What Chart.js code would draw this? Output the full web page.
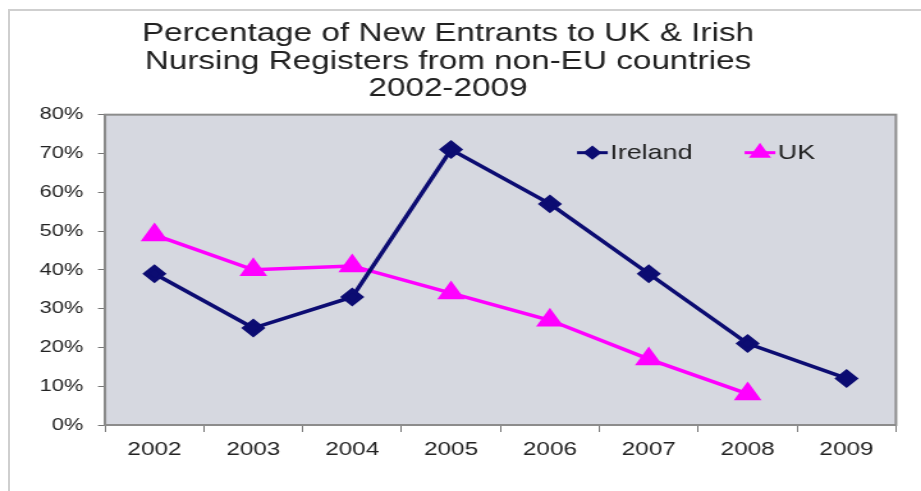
<!DOCTYPE html>
<html>
<head>
<meta charset="utf-8">
<script src="https://cdn.jsdelivr.net/npm/chart.js@4.4.1/dist/chart.umd.min.js"></script>
<style>
    html, body { margin: 0; padding: 0; background: #ffffff; overflow: hidden; }
    #wrap { position: relative; width: 921px; height: 491px; overflow: hidden; }
    #frame {
        position: absolute; left: 8px; top: 9px; right: -2px; bottom: -2px;
        border-top: 2px solid #cfcfcf; border-left: 2px solid #cfcfcf;
    }
    /* the source picture is stretched sideways, so stretch the canvas the same way */
    #chart { position: absolute; left: 0; top: 0; transform: scaleX(1.2792); transform-origin: 0 0; }
</style>
</head>
<body>
<div id="wrap">
    <div id="frame"></div>
    <canvas id="chart" width="720" height="491"></canvas>
</div>
<script>
// Chart data
const years = ['2002', '2003', '2004', '2005', '2006', '2007', '2008', '2009'];
const irelandPct = [39, 25, 33, 71, 57, 39, 21, 12];
const ukPct = [49, 40, 41, 34, 27, 17, 8, null];
const titleLines = [
    'Percentage of New Entrants to UK & Irish',
    'Nursing Registers from non-EU countries',
    '2002-2009'
];

const colors = {
    ireland: '#0c0c72',
    uk: '#ff00ff',
    plotBg: '#d6d8e0',
    text: '#222222'
};

const fontFamily = '"Liberation Sans", Arial, sans-serif';

// plot area background + border
const plotArea = {
    id: 'plotArea',
    beforeDatasetsDraw(chart) {
        const { ctx, chartArea: a } = chart;
        ctx.save();
        ctx.fillStyle = colors.plotBg;
        ctx.fillRect(a.left, a.top, a.right - a.left, a.bottom - a.top);
        ctx.strokeStyle = '#8c8c8c';
        ctx.lineWidth = 2;
        ctx.strokeRect(a.left, a.top, a.right - a.left, a.bottom - a.top);
        ctx.restore();
    }
};

// legend drawn inside the plot, Excel-style
const innerLegend = {
    id: 'innerLegend',
    afterDatasetsDraw(chart) {
        const { ctx, chartArea: a } = chart;
        const y = a.top + 38;
        const items = [
            { x: a.left + 369, ds: 0, label: 'Ireland' },
            { x: a.left + 500, ds: 1, label: 'UK' }
        ];
        ctx.save();
        ctx.font = '21px ' + fontFamily;
        ctx.textBaseline = 'middle';
        items.forEach(it => {
            const ds = chart.data.datasets[it.ds];
            ctx.strokeStyle = ds.borderColor;
            ctx.lineWidth = 3;
            ctx.beginPath();
            ctx.moveTo(it.x, y);
            ctx.lineTo(it.x + 24, y);
            ctx.stroke();
            ctx.fillStyle = ds.pointBackgroundColor;
            ctx.strokeStyle = ds.pointBorderColor;
            Chart.helpers.drawPoint(ctx, {
                pointStyle: ds.pointStyle,
                radius: ds.pointRadius - 2,
                rotation: 0,
                borderWidth: 1
            }, it.x + 12, y);
            ctx.fillStyle = colors.text;
            ctx.fillText(it.label, it.x + 26, y + 1);
        });
        ctx.restore();
    }
};

new Chart(document.getElementById('chart').getContext('2d'), {
    type: 'line',
    data: {
        labels: years,
        datasets: [
            {
                label: 'Ireland',
                data: irelandPct,
                borderColor: colors.ireland,
                backgroundColor: colors.ireland,
                pointBackgroundColor: colors.ireland,
                pointBorderColor: colors.ireland,
                pointStyle: 'rectRot',
                pointRadius: 7,
                borderWidth: 3.5,
                tension: 0
            },
            {
                label: 'UK',
                data: ukPct,
                borderColor: colors.uk,
                backgroundColor: colors.uk,
                pointBackgroundColor: colors.uk,
                pointBorderColor: colors.uk,
                pointStyle: 'triangle',
                pointRadius: 9,
                borderWidth: 3.5,
                tension: 0
            }
        ]
    },
    options: {
        responsive: false,
        animation: false,
        layout: { padding: { left: 0, right: 19.6, top: 4, bottom: 0 } },
        plugins: {
            legend: { display: false },
            tooltip: { enabled: false },
            title: {
                display: true,
                text: titleLines,
                color: colors.text,
                font: { family: fontFamily, size: 26, weight: 'normal', lineHeight: 1.06 },
                padding: { top: 16, bottom: 12 }
            }
        },
        scales: {
            x: {
                offset: true,
                grid: {
                    offset: true,
                    drawOnChartArea: false,
                    drawTicks: true,
                    tickLength: 7,
                    color: '#777777'
                },
                border: { display: true, color: '#777777', width: 2 },
                ticks: {
                    color: colors.text,
                    font: { family: fontFamily, size: 19 },
                    padding: 6,
                    maxRotation: 0
                },
                afterFit(scale) { scale.height = 66; }
            },
            y: {
                min: 0,
                max: 80,
                grid: {
                    drawOnChartArea: false,
                    drawTicks: true,
                    tickLength: 5.5,
                    color: '#777777'
                },
                border: { display: true, color: '#777777', width: 2 },
                ticks: {
                    stepSize: 10,
                    color: colors.text,
                    font: { family: fontFamily, size: 17 },
                    padding: 11.5,
                    callback: v => v + '%'
                },
                afterFit(scale) { scale.width = 82.1; }
            }
        }
    },
    plugins: [plotArea, innerLegend]
});
</script>
</body>
</html>
